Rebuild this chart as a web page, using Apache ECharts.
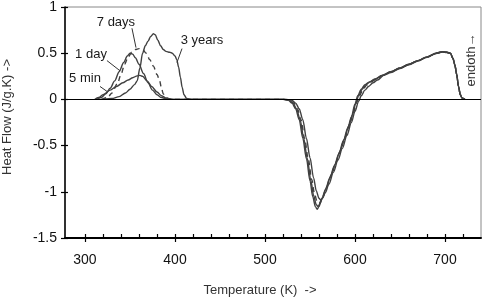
<!DOCTYPE html>
<html>
<head>
<meta charset="utf-8">
<script src="https://cdn.jsdelivr.net/npm/echarts@6/dist/echarts.min.js"></script>
<style>
  html, body { margin: 0; padding: 0; background: #fff; }
  #chart { width: 487px; height: 298px; }
</style>
</head>
<body>
<div id="chart"></div>
<script>
// temperature (K), heat flow (J/g.K)
var min5 = [[311,0],[315,0.02],[320,0.05],[328,0.1],[335,0.14],[342,0.18],[348,0.21],[353,0.235],[358,0.255],[361,0.26],[364,0.25],[369,0.2],[374,0.14],[380,0.08],[385,0.04],[391,0.01],[398,0],
  [520,0],[526,-0.01],[530,-0.04],[534,-0.1],[538,-0.22],[542,-0.42],[546,-0.64],[550,-0.88],[553,-1.05],[556,-1.16],[558,-1.19],[560,-1.16],[563,-1.08],[567,-0.98],[572,-0.85],[577,-0.72],[582,-0.59],[587,-0.45],[592,-0.31],[596,-0.19],[600,-0.05],
  [603,0.04],[607,0.11],[611,0.16],[616,0.19],[622,0.22],[630,0.26],[640,0.3],[650,0.34],[660,0.38],[670,0.42],[680,0.46],[690,0.5],[697,0.515],[702,0.51],[706,0.5],[709,0.44],[711,0.37],[713,0.27],[715,0.14],[717,0.05],[719,0.015],[722,0]]

var day1 = [[313,0],[318,0.02],[323,0.06],[328,0.12],[333,0.2],[338,0.3],[343,0.4],[347,0.47],[350,0.5],[353,0.49],[356,0.45],[360,0.38],[365,0.28],[370,0.18],[375,0.1],[380,0.05],[385,0.02],[391,0.005],[398,0],
  [521,0],[527,-0.01],[531,-0.04],[535,-0.1],[539,-0.22],[543,-0.42],[547,-0.64],[551,-0.88],[554,-1.04],[557,-1.14],[559,-1.16],[561,-1.13],[564,-1.06],[568,-0.96],[573,-0.83],[578,-0.7],[583,-0.57],[588,-0.43],[593,-0.29],[597,-0.17],[601,-0.04],
  [604,0.04],[608,0.11],[612,0.16],[617,0.19],[622,0.215],[630,0.26],[640,0.3],[650,0.34],[660,0.38],[670,0.42],[680,0.46],[690,0.5],[697,0.515],[702,0.51],[706,0.5],[709,0.44],[711,0.37],[713,0.27],[715,0.14],[717,0.05],[719,0.015],[722,0]]

var days7 = [[318,0],[325,0.02],[330,0.07],[336,0.17],[340,0.27],[344,0.38],[348,0.46],[352,0.51],[356,0.54],[360,0.55],[364,0.54],[368,0.5],[372,0.43],[376,0.36],[380,0.27],[383,0.2],[385,0.12],[387,0.06],[390,0.02],[395,0],
  [522,0],[528,-0.01],[532,-0.04],[536,-0.1],[540,-0.22],[544,-0.42],[548,-0.64],[552,-0.87],[555,-1.02],[558,-1.11],[560,-1.13],[562,-1.1],[565,-1.04],[569,-0.94],[574,-0.81],[579,-0.68],[584,-0.55],[589,-0.41],[594,-0.27],[598,-0.15],[602,-0.03],
  [605,0.04],[609,0.11],[613,0.155],[618,0.19],[623,0.215],[630,0.255],[640,0.3],[650,0.34],[660,0.38],[670,0.42],[680,0.46],[690,0.5],[697,0.515],[702,0.51],[706,0.5],[709,0.44],[711,0.37],[713,0.27],[715,0.14],[717,0.05],[719,0.015],[722,0]]

var years3 = [[320,0],[330,0.01],[338,0.03],[345,0.07],[350,0.11],[355,0.16],[358,0.2],[361,0.34],[364,0.5],[367,0.58],[370,0.63],[373,0.68],[376,0.71],[378,0.7],[381,0.64],[384,0.58],[387,0.54],[390,0.52],[394,0.51],[397,0.5],[400,0.47],[402,0.43],[404,0.35],[406,0.24],[408,0.13],[410,0.05],[413,0.01],[418,0],
  [524,0],[530,-0.01],[534,-0.04],[538,-0.1],[542,-0.22],[546,-0.42],[550,-0.63],[554,-0.85],[557,-0.99],[560,-1.07],[562,-1.09],[564,-1.07],[567,-1.01],[571,-0.92],[576,-0.79],[581,-0.66],[586,-0.53],[591,-0.39],[596,-0.25],[600,-0.13],[604,-0.02],
  [607,0.04],[611,0.1],[615,0.14],[620,0.18],[625,0.21],[632,0.26],[640,0.29],[650,0.335],[660,0.375],[670,0.415],[680,0.455],[690,0.495],[697,0.512],[702,0.508],[706,0.5],[709,0.44],[711,0.37],[713,0.27],[715,0.14],[717,0.05],[719,0.015],[722,0]]

var xTicks = [300, 400, 500, 600, 700]
var xMinorTicks = [300, 320, 340, 360, 380, 400, 420, 440, 460, 480, 500, 520, 540, 560, 580, 600, 620, 640, 660, 680, 700, 720]

// curve labels: text, text centre, leader line start, leader line end (data coords)
var notes = [
  ['5 min',   [300, 0.227], [316.7, 0.14], [324.4, 0.087]],
  ['1 day',   [306.7, 0.487], [324.4, 0.42], [338.9, 0.31]],
  ['7 days',  [334.4, 0.833], [352.2, 0.77], [356.7, 0.56]],
  ['3 years', [430, 0.639], [407.8, 0.55], [402.2, 0.40]]
]

var chart = echarts.init(document.getElementById('chart'))
var font = 'Liberation Sans, Arial, sans-serif'
var lineColor = '#404040'

function curve(name, data, dashed) {
  return {
    name: name,
    type: 'line',
    data: data,
    showSymbol: false,
    smooth: 0.3,
    smoothMonotone: 'x',
    silent: true,
    lineStyle: { color: lineColor, width: 1.4, type: dashed ? [5, 4] : 'solid' },
    z: 3
  }
}

var xBase = {
  type: 'value',
  min: 277.8,
  max: 740,
  position: 'bottom',
  offset: 0,
  splitLine: { show: false }
}

chart.setOption({
  animation: false,
  grid: { left: 65, right: 6, top: 7, bottom: 60, show: true, borderColor: '#888', borderWidth: 1 },
  xAxis: [
    Object.assign({}, xBase, {
      axisLine: { onZero: false, lineStyle: { color: '#000', width: 2 } },
      axisTick: { show: true, inside: false, length: 4, customValues: xTicks, lineStyle: { color: '#000', width: 1.2 } },
      axisLabel: { customValues: xTicks, margin: 15, fontSize: 14, color: '#111', fontFamily: font }
    }),
    Object.assign({}, xBase, {
      axisLine: { show: false, onZero: false },
      axisTick: { show: true, inside: true, length: 4, customValues: xMinorTicks, lineStyle: { color: '#000', width: 1.2 } },
      axisLabel: { show: false }
    })
  ],
  yAxis: [
    {
      type: 'value', min: -1.5, max: 1, interval: 0.5, position: 'left', offset: 0,
      splitLine: { show: false },
      axisLine: { show: true, onZero: false, lineStyle: { color: '#000', width: 1.5 } },
      axisTick: { show: true, inside: false, length: 4, lineStyle: { color: '#000', width: 1.2 } },
      axisLabel: { margin: 8, fontSize: 14, color: '#111', fontFamily: font }
    },
    {
      type: 'value', min: -1.5, max: 1, interval: 0.5, position: 'left', offset: 0,
      splitLine: { show: false },
      axisLine: { show: false, onZero: false },
      axisTick: { show: true, inside: true, length: 3, lineStyle: { color: '#000', width: 1.2 } },
      axisLabel: { show: false }
    }
  ],
  series: [
    Object.assign(curve('5 min', min5, false), {
      markLine: {
        silent: true, symbol: 'none', label: { show: false },
        lineStyle: { color: '#000', width: 1, type: 'solid' },
        data: [{ yAxis: 0 }]
      }
    }),
    curve('1 day', day1, false),
    curve('7 days', days7, true),
    curve('3 years', years3, false)
  ]
})

var graphics = []
notes.forEach(function (n) {
  var c = chart.convertToPixel({ xAxisIndex: 0, yAxisIndex: 0 }, n[1])
  var a = chart.convertToPixel({ xAxisIndex: 0, yAxisIndex: 0 }, n[2])
  var b = chart.convertToPixel({ xAxisIndex: 0, yAxisIndex: 0 }, n[3])
  graphics.push({
    type: 'text', x: c[0], y: c[1], z: 10,
    style: { text: n[0], fontSize: 13, fontFamily: font, fill: '#1a1a1a', align: 'center', verticalAlign: 'middle' }
  })
  graphics.push({
    type: 'line', z: 10,
    shape: { x1: a[0], y1: a[1], x2: b[0], y2: b[1] },
    style: { stroke: '#333', lineWidth: 1 }
  })
})
graphics.push({
  type: 'text', x: 260, y: 290, z: 10,
  style: { text: 'Temperature (K)  ->', fontSize: 13, fontFamily: font, fill: '#333', align: 'center', verticalAlign: 'middle' }
})
graphics.push({
  type: 'text', x: 7, y: 117, rotation: Math.PI / 2, z: 10,
  style: { text: 'Heat Flow (J/g.K) ->', fontSize: 13, fontFamily: font, fill: '#333', align: 'center', verticalAlign: 'middle' }
})
graphics.push({
  type: 'text', x: 471, y: 60, rotation: Math.PI / 2, z: 10,
  style: { text: 'endoth→', fontSize: 13, fontFamily: font, fill: '#333', align: 'center', verticalAlign: 'middle' }
})
chart.setOption({ graphic: graphics })
</script>
</body>
</html>
